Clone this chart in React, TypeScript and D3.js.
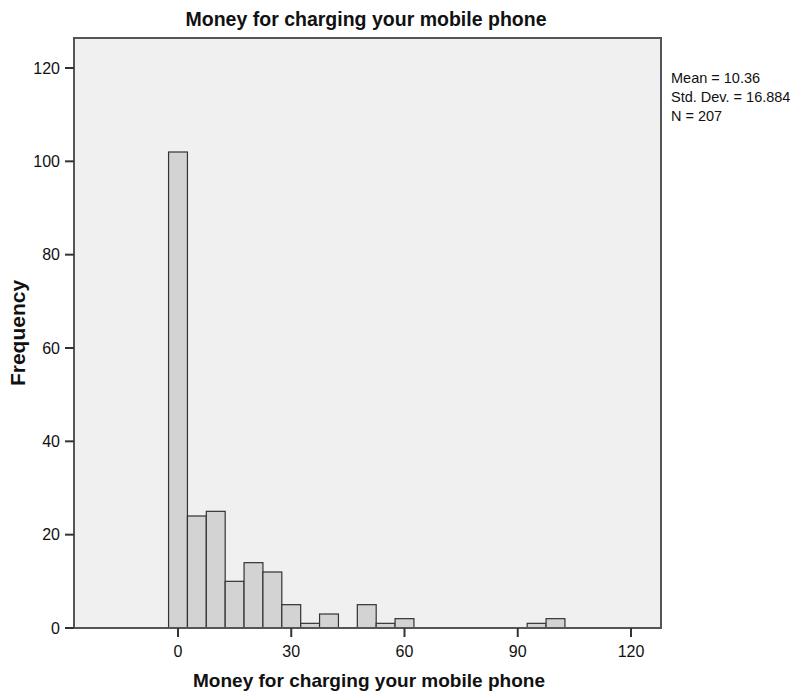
import React from "react";
import * as d3 from "d3";

const binCenters = [0, 5, 10, 15, 20, 25, 30, 35, 40, 45, 50, 55, 60, 95, 100];
const counts = [102, 24, 25, 10, 14, 12, 5, 1, 3, 0, 5, 1, 2, 1, 2];
const binWidth = 5;
const xTicks = [0, 30, 60, 90, 120];
const yTicks = [0, 20, 40, 60, 80, 100, 120];
const statsLines = ["Mean = 10.36", "Std. Dev. = 16.884", "N = 207"];
const title = "Money for charging your mobile phone";
const xLabel = "Money for charging your mobile phone";
const yLabel = "Frequency";

const W = 799;
const H = 694;
const plot = { left: 74, right: 661, top: 38, bottom: 628 };
const FONT = "Arial, 'Liberation Sans', sans-serif";

export default function App() {
  const x = d3.scaleLinear().domain([0, 120]).range([178, 631]);
  const y = d3.scaleLinear().domain([0, 120]).range([628, 68]);
  const bars = binCenters.map((c, i) => ({ c, n: counts[i] })).filter((d) => d.n > 0);
  return (
    <svg width={W} height={H} style={{ position: "absolute", left: 0, top: 0 }} fontFamily={FONT}>
      <rect x={0} y={0} width={W} height={H} fill="#fff" />
      <rect
        x={plot.left}
        y={plot.top}
        width={plot.right - plot.left}
        height={plot.bottom - plot.top}
        fill="#f0f0f0"
      />
      {bars.map((d, i) => (
        <rect
          key={i}
          x={x(d.c - binWidth / 2)}
          y={y(d.n)}
          width={x(d.c + binWidth / 2) - x(d.c - binWidth / 2)}
          height={y(0) - y(d.n)}
          fill="#d3d3d3"
          stroke="#333"
          strokeWidth={1.2}
        />
      ))}
      <rect
        x={plot.left}
        y={plot.top}
        width={plot.right - plot.left}
        height={plot.bottom - plot.top}
        fill="none"
        stroke="#555"
        strokeWidth={2}
      />
      {yTicks.map((t) => (
        <g key={"y" + t}>
          <line x1={65} x2={plot.left} y1={y(t)} y2={y(t)} stroke="#333" strokeWidth={2} />
          <text x={60} y={y(t) + 5.5} textAnchor="end" fontSize={16} fill="#111">
            {t}
          </text>
        </g>
      ))}
      {xTicks.map((t) => (
        <g key={"x" + t}>
          <line x1={x(t)} x2={x(t)} y1={plot.bottom} y2={plot.bottom + 9} stroke="#333" strokeWidth={2} />
          <text x={x(t)} y={657} textAnchor="middle" fontSize={16} fill="#111">
            {t}
          </text>
        </g>
      ))}
      <text
        x={366}
        y={26}
        textAnchor="middle"
        fontSize={20}
        fontWeight="bold"
        fill="#111"
        textLength={361}
        lengthAdjust="spacingAndGlyphs"
      >
        {title}
      </text>
      <text
        x={369}
        y={687}
        textAnchor="middle"
        fontSize={18.5}
        fontWeight="bold"
        fill="#111"
        textLength={352}
        lengthAdjust="spacingAndGlyphs"
      >
        {xLabel}
      </text>
      <text
        transform={`translate(25,333) rotate(-90)`}
        textAnchor="middle"
        fontSize={21}
        fontWeight="bold"
        fill="#111"
      >
        {yLabel}
      </text>
      {statsLines.map((s, i) => (
        <text key={i} x={671} y={83 + i * 19} fontSize={14.5} fill="#111">
          {s}
        </text>
      ))}
    </svg>
  );
}
